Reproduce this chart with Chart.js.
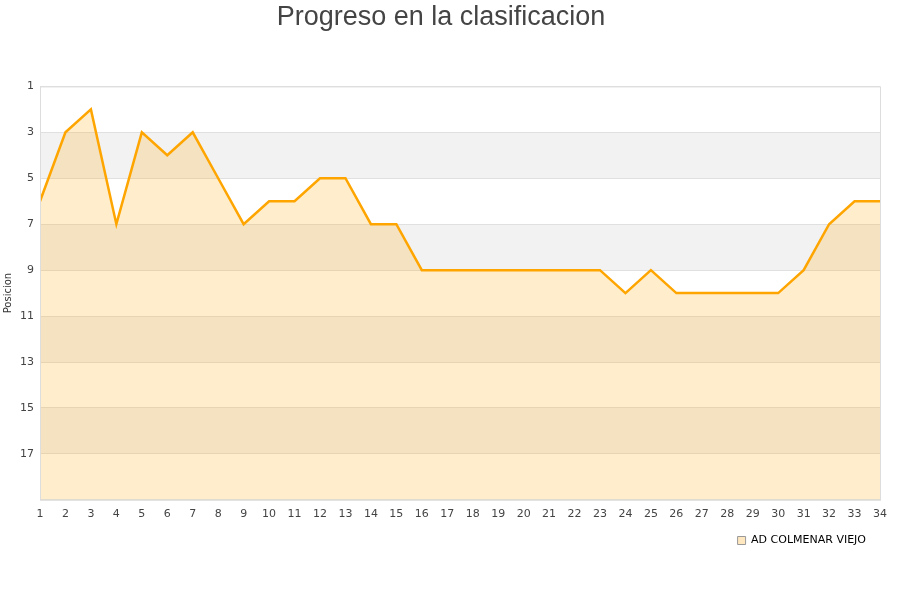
<!DOCTYPE html>
<html>
<head>
<meta charset="utf-8">
<script src="https://cdn.jsdelivr.net/npm/chart.js@4/dist/chart.umd.min.js"></script>
<style>
  html, body { margin: 0; padding: 0; background: #fff; }
  #wrap { width: 900px; height: 600px; }
</style>
</head>
<body>
<div id="wrap"><canvas id="chart"></canvas></div>
<script>
// Jornadas y posicion del equipo
const jornadas = [1,2,3,4,5,6,7,8,9,10,11,12,13,14,15,16,17,18,19,20,21,22,23,24,25,26,27,28,29,30,31,32,33,34];
const posiciones = [6,3,2,7,3,4,3,5,7,6,6,5,5,7,7,9,9,9,9,9,9,9,9,10,9,10,10,10,10,10,9,7,6,6];
const equipo = 'AD COLMENAR VIEJO';
const yMin = 1;
const yMax = 19;

// alternating grey bands between gridlines
const bandsPlugin = {
  id: 'bands',
  beforeDraw(chart) {
    const { ctx, chartArea, scales } = chart;
    const y = scales.y;
    ctx.save();
    ctx.fillStyle = '#f2f2f2';
    for (let v = yMin + 2; v < yMax; v += 4) {
      const top = y.getPixelForValue(v);
      const bottom = y.getPixelForValue(Math.min(v + 2, yMax));
      ctx.fillRect(chartArea.left, top, chartArea.right - chartArea.left, bottom - top);
    }
    ctx.restore();
  },
  afterDatasetsDraw(chart) {
    const { ctx, chartArea } = chart;
    ctx.save();
    ctx.strokeStyle = '#dddddd';
    ctx.lineWidth = 1;
    ctx.strokeRect(chartArea.left + 0.5, chartArea.top + 0.5,
      chartArea.right - chartArea.left, chartArea.bottom - chartArea.top);
    ctx.restore();
  }
};

const chart = new Chart(document.getElementById('chart'), {
  type: 'line',
  data: {
    datasets: [{
      label: equipo,
      data: jornadas.map((j, i) => ({ x: j, y: posiciones[i] })),
      borderColor: '#ffa500',
      backgroundColor: 'rgba(255,165,0,0.2)',
      borderWidth: 2.5,
      pointRadius: 0,
      tension: 0,
      fill: { value: yMax }
    }]
  },
  options: {
    responsive: true,
    maintainAspectRatio: false,
    animation: false,
    layout: { padding: { left: 2, right: 20, top: 0, bottom: 44 } },
    plugins: {
      title: {
        display: true,
        text: 'Progreso en la clasificacion',
        color: '#444',
        font: { family: 'Liberation Sans, Arial, sans-serif', size: 27, weight: 'normal' },
        padding: { top: 1, bottom: 53 }
      },
      legend: {
        position: 'bottom',
        align: 'end',
        labels: {
          color: '#000',
          boxWidth: 8,
          boxHeight: 8,
          padding: 14,
          font: { family: 'DejaVu Sans, sans-serif', size: 11 },
          generateLabels: (c) => [{
            text: equipo,
            fillStyle: '#ffe8bf',
            strokeStyle: '#999',
            lineWidth: 1,
            datasetIndex: 0
          }]
        }
      },
      tooltip: { enabled: false }
    },
    scales: {
      x: {
        type: 'linear',
        min: 1,
        max: 34,
        grid: { display: false },
        border: { display: false },
        ticks: {
          stepSize: 1,
          color: '#444',
          padding: 0,
          font: { family: 'DejaVu Sans, sans-serif', size: 11 }
        }
      },
      y: {
        reverse: true,
        min: yMin,
        max: yMax,
        grid: { color: '#e0e0e0', drawTicks: false },
        border: { display: false },
        title: {
          display: true,
          text: 'Posicion',
          color: '#333',
          padding: { top: 0, bottom: 0 },
          font: { family: 'DejaVu Sans, sans-serif', size: 10 }
        },
        ticks: {
          stepSize: 2,
          color: '#444',
          padding: 6,
          font: { family: 'DejaVu Sans, sans-serif', size: 11 },
          callback: (v) => (v === yMax ? '' : v)
        }
      }
    }
  },
  plugins: [bandsPlugin]
});
</script>
</body>
</html>
